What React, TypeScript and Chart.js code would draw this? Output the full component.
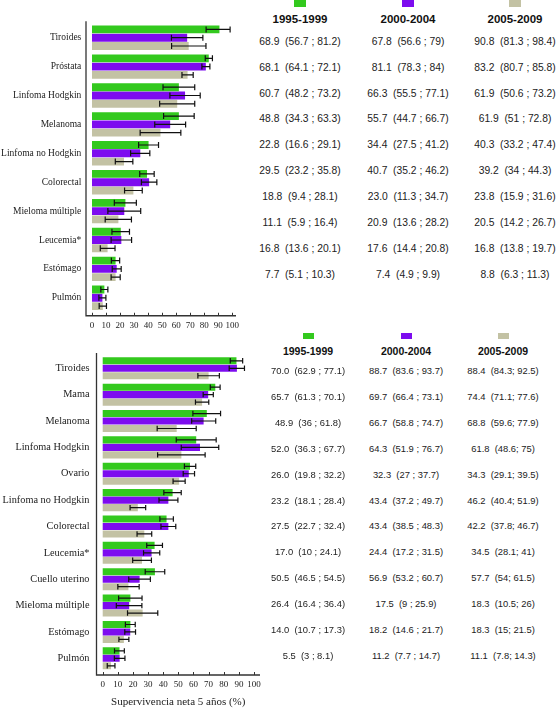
import React, { useEffect, useRef } from "react";
import { Chart, registerables } from "chart.js";

Chart.register(...registerables);

const GREEN = "#33c91e";
const PURPLE = "#7d0cef";
const GRAY = "#c3c2a4";

const periods = ["1995-1999", "2000-2004", "2005-2009"];
const xTickValues = [0, 10, 20, 30, 40, 50, 60, 70, 80, 90, 100];
const axisTitle = "Supervivencia neta 5 años (%)";

// ---- Top panel (bars) ----
const topCategories = ["Tiroides", "Próstata", "Linfoma Hodgkin", "Melanoma", "Linfoma no Hodgkin", "Colorectal", "Mieloma múltiple", "Leucemia*", "Estómago", "Pulmón"];
const topGreen = [90.8, 83.2, 61.9, 61.9, 40.3, 39.2, 23.8, 20.5, 16.8, 8.8];
const topGreenLo = [81.3, 80.7, 50.6, 51, 33.2, 34, 15.9, 14.2, 13.8, 6.3];
const topGreenHi = [98.4, 85.8, 73.2, 72.8, 47.4, 44.3, 31.6, 26.7, 19.7, 11.3];
const topPurple = [67.8, 81.1, 66.3, 55.7, 34.4, 40.7, 23.0, 20.9, 17.6, 7.4];
const topPurpleLo = [56.6, 78.3, 55.5, 44.7, 27.5, 35.2, 11.3, 13.6, 14.4, 4.9];
const topPurpleHi = [79, 84, 77.1, 66.7, 41.2, 46.2, 34.7, 28.2, 20.8, 9.9];
const topGray = [68.9, 68.1, 60.7, 48.8, 22.8, 29.5, 18.8, 11.1, 16.8, 7.7];
const topGrayLo = [56.7, 64.1, 48.2, 34.3, 16.6, 23.2, 9.4, 5.9, 13.6, 5.1];
const topGrayHi = [81.2, 72.1, 73.2, 63.3, 29.1, 35.8, 28.1, 16.4, 20.1, 10.3];

// ---- Top panel (table text) ----
const topTable1 = ["68.9  (56.7 ; 81.2)", "68.1  (64.1 ; 72.1)", "60.7  (48.2 ; 73.2)", "48.8  (34.3 ; 63.3)", "22.8  (16.6 ; 29.1)", "29.5  (23.2 ; 35.8)", "18.8  (9.4 ; 28.1)", "11.1  (5.9 ; 16.4)", "16.8  (13.6 ; 20.1)", "7.7  (5.1 ; 10.3)"];
const topTable2 = ["67.8  (56.6 ; 79)", "81.1  (78.3 ; 84)", "66.3  (55.5 ; 77.1)", "55.7  (44.7 ; 66.7)", "34.4  (27.5 ; 41.2)", "40.7  (35.2 ; 46.2)", "23.0  (11.3 ; 34.7)", "20.9  (13.6 ; 28.2)", "17.6  (14.4 ; 20.8)", "7.4  (4.9 ; 9.9)"];
const topTable3 = ["90.8  (81.3 ; 98.4)", "83.2  (80.7 ; 85.8)", "61.9  (50.6 ; 73.2)", "61.9  (51 ; 72.8)", "40.3  (33.2 ; 47.4)", "39.2  (34 ; 44.3)", "23.8  (15.9 ; 31.6)", "20.5  (14.2 ; 26.7)", "16.8  (13.8 ; 19.7)", "8.8  (6.3 ; 11.3)"];

// ---- Bottom panel (bars) ----
const botCategories = ["Tiroides", "Mama", "Melanoma", "Linfoma Hodgkin", "Ovario", "Linfoma no Hodgkin", "Colorectal", "Leucemia*", "Cuello uterino", "Mieloma múltiple", "Estómago", "Pulmón"];
const botGreen = [88.4, 74.4, 68.8, 61.8, 57.7, 46.2, 42.2, 34.3, 34.5, 18.3, 18.3, 11.1];
const botGreenLo = [84.3, 71.1, 59.6, 48.6, 54, 40.4, 37.8, 29.1, 28.1, 10.5, 15, 7.8];
const botGreenHi = [92.5, 77.6, 77.9, 75, 61.5, 51.9, 46.7, 39.5, 41, 26, 21.5, 14.3];
const botPurple = [88.7, 69.7, 66.7, 64.3, 56.9, 43.4, 43.4, 32.3, 24.4, 17.5, 18.2, 11.2];
const botPurpleLo = [83.6, 66.4, 58.8, 51.9, 53.2, 37.2, 38.5, 27, 17.2, 9, 14.6, 7.7];
const botPurpleHi = [93.7, 73.1, 74.7, 76.7, 60.7, 49.7, 48.3, 37.7, 31.5, 25.9, 21.7, 14.7];
const botGray = [70.0, 65.7, 48.9, 52.0, 50.5, 23.2, 27.5, 26.0, 17.0, 26.4, 14.0, 5.5];
const botGrayLo = [62.9, 61.3, 36, 36.3, 46.5, 18.1, 22.7, 19.8, 10, 16.4, 10.7, 3];
const botGrayHi = [77.1, 70.1, 61.8, 67.7, 54.5, 28.4, 32.4, 32.2, 24.1, 36.4, 17.3, 8.1];

// ---- Bottom panel (table text) ----
const botTable1 = ["70.0  (62.9 ; 77.1)", "65.7  (61.3 ; 70.1)", "48.9  (36 ; 61.8)", "52.0  (36.3 ; 67.7)", "26.0  (19.8 ; 32.2)", "23.2  (18.1 ; 28.4)", "27.5  (22.7 ; 32.4)", "17.0  (10 ; 24.1)", "50.5  (46.5 ; 54.5)", "26.4  (16.4 ; 36.4)", "14.0  (10.7 ; 17.3)", "5.5  (3 ; 8.1)"];
const botTable2 = ["88.7  (83.6 ; 93.7)", "69.7  (66.4 ; 73.1)", "66.7  (58.8 ; 74.7)", "64.3  (51.9 ; 76.7)", "32.3  (27 ; 37.7)", "43.4  (37.2 ; 49.7)", "43.4  (38.5 ; 48.3)", "24.4  (17.2 ; 31.5)", "56.9  (53.2 ; 60.7)", "17.5  (9 ; 25.9)", "18.2  (14.6 ; 21.7)", "11.2  (7.7 ; 14.7)"];
const botTable3 = ["88.4  (84.3; 92.5)", "74.4  (71.1; 77.6)", "68.8  (59.6; 77.9)", "61.8  (48.6; 75)", "34.3  (29.1; 39.5)", "46.2  (40.4; 51.9)", "42.2  (37.8; 46.7)", "34.5  (28.1; 41)", "57.7  (54; 61.5)", "18.3  (10.5; 26)", "18.3  (15; 21.5)", "11.1  (7.8; 14.3)"];

const SERIF = "'Liberation Serif', 'DejaVu Serif', serif";
const SANS = "'Liberation Sans', Arial, sans-serif";

type PanelProps = {
  labels: string[];
  series: { color: string; values: number[]; lo: number[]; hi: number[] }[];
  top: number;
  width: number;
  height: number;
  areaTop: number;
  areaBottom: number;
  areaLeft: number;
  areaRight: number;
  xMin: number;
  xMax: number;
  labelSize: number;
  labelPad: number;
  tickPad: number;
  catPct: number;
  title?: string;
};

const errorBarPlugin = {
  id: "errorBars",
  afterDatasetsDraw(chart: any) {
    const ctx = chart.ctx;
    const xs = chart.scales.x;
    ctx.save();
    ctx.strokeStyle = "#111";
    ctx.lineWidth = 1.2;
    chart.data.datasets.forEach((ds: any, di: number) => {
      const meta = chart.getDatasetMeta(di);
      meta.data.forEach((bar: any, i: number) => {
        const y = bar.y;
        const x1 = xs.getPixelForValue(ds.errLo[i]);
        const x2 = xs.getPixelForValue(ds.errHi[i]);
        const cap = Math.max(2.5, bar.height * 0.38);
        ctx.beginPath();
        ctx.moveTo(x1, y);
        ctx.lineTo(x2, y);
        ctx.moveTo(x1, y - cap);
        ctx.lineTo(x1, y + cap);
        ctx.moveTo(x2, y - cap);
        ctx.lineTo(x2, y + cap);
        ctx.stroke();
      });
    });
    ctx.restore();
  },
};

const axisLinePlugin = {
  id: "axisLines",
  afterDraw(chart: any) {
    const ctx = chart.ctx;
    const { left, right, top, bottom } = chart.chartArea;
    const xs = chart.scales.x;
    const yAxis = bottom + 3.5;
    ctx.save();
    ctx.strokeStyle = "#333";
    ctx.lineWidth = 1.3;
    ctx.beginPath();
    ctx.moveTo(left, top - 2);
    ctx.lineTo(left, yAxis);
    ctx.lineTo(right, yAxis);
    ctx.stroke();
    ctx.lineWidth = 1;
    ctx.beginPath();
    xs.ticks.forEach((t: any) => {
      const px = Math.round(xs.getPixelForValue(t.value)) + 0.5;
      ctx.moveTo(px, yAxis);
      ctx.lineTo(px, yAxis - 3);
    });
    ctx.stroke();
    ctx.restore();
  },
};

function Panel(p: PanelProps) {
  const ref = useRef<HTMLCanvasElement | null>(null);
  useEffect(() => {
    if (!ref.current) return;
    const chart = new Chart(ref.current, {
      type: "bar",
      data: {
        labels: p.labels,
        datasets: p.series.map((s) => ({
          data: s.values,
          backgroundColor: s.color,
          borderWidth: 0,
          categoryPercentage: p.catPct,
          barPercentage: 0.95,
          errLo: s.lo,
          errHi: s.hi,
        })) as any,
      },
      options: {
        indexAxis: "y",
        responsive: false,
        animation: false,
        devicePixelRatio: 1,
        layout: {
          padding: { top: p.areaTop, right: p.width - p.areaRight, left: 0, bottom: 0 },
        },
        plugins: { legend: { display: false }, tooltip: { enabled: false } },
        scales: {
          x: {
            type: "linear",
            min: p.xMin,
            max: p.xMax,
            grid: { display: false, drawTicks: false },
            border: { display: false },
            afterBuildTicks: (scale: any) => {
              scale.ticks = xTickValues.map((v) => ({ value: v }));
            },
            afterFit: (scale: any) => {
              scale.height = p.height - p.areaBottom;
            },
            ticks: {
              padding: p.tickPad,
              color: "#222",
              font: { family: SERIF, size: 9 },
              maxRotation: 0,
              autoSkip: false,
            },
            title: p.title
              ? {
                  display: true,
                  text: p.title,
                  color: "#222",
                  font: { family: SERIF, size: 11 },
                  padding: { top: 0, bottom: 0.7 },
                }
              : { display: false },
          },
          y: {
            type: "category",
            grid: { display: false, drawTicks: false },
            border: { display: false },
            afterFit: (scale: any) => {
              scale.width = p.areaLeft;
            },
            ticks: {
              padding: p.labelPad,
              color: "#222",
              font: { family: SERIF, size: p.labelSize },
              autoSkip: false,
            },
          },
        },
      } as any,
      plugins: [errorBarPlugin, axisLinePlugin],
    });
    return () => chart.destroy();
  }, []);
  return (
    <canvas
      ref={ref}
      width={p.width}
      height={p.height}
      style={{ position: "absolute", left: 0, top: p.top, width: p.width, height: p.height }}
    />
  );
}

function TableBlock(props: {
  cols: string[][];
  colX: number[];
  headerY: number;
  squareY: number;
  squareW: number;
  squareH: number;
  rowY0: number;
  rowStep: number;
  headerSize: number;
  rowSize: number;
}) {
  const colors = [GREEN, PURPLE, GRAY];
  const items: any[] = [];
  props.colX.forEach((x, c) => {
    items.push(
      <div
        key={"sq" + c}
        style={{
          position: "absolute",
          left: x - props.squareW / 2,
          top: props.squareY,
          width: props.squareW,
          height: props.squareH,
          background: colors[c],
        }}
      />
    );
    items.push(
      <div
        key={"h" + c}
        style={{
          position: "absolute",
          left: x,
          top: props.headerY,
          transform: "translate(-50%, -50%)",
          fontFamily: SANS,
          fontWeight: 700,
          fontSize: props.headerSize,
          color: "#111",
          whiteSpace: "pre",
          lineHeight: 1,
        }}
      >
        {periods[c]}
      </div>
    );
    props.cols[c].forEach((t, r) => {
      items.push(
        <div
          key={"c" + c + "r" + r}
          style={{
            position: "absolute",
            left: x,
            top: props.rowY0 + r * props.rowStep,
            transform: "translate(-50%, -50%)",
            fontFamily: SANS,
            fontSize: props.rowSize,
            color: "#222",
            whiteSpace: "pre",
            lineHeight: 1,
          }}
        >
          {t}
        </div>
      );
    });
  });
  return <>{items}</>;
}

export default function App() {
  return (
    <div style={{ position: "fixed", left: 0, top: 0, width: 558, height: 709, background: "#fff", overflow: "hidden" }}>
      <Panel
        labels={topCategories}
        series={[
          { color: GREEN, values: topGreen, lo: topGreenLo, hi: topGreenHi },
          { color: PURPLE, values: topPurple, lo: topPurpleLo, hi: topPurpleHi },
          { color: GRAY, values: topGray, lo: topGrayLo, hi: topGrayHi },
        ]}
        top={0}
        width={250}
        height={335}
        areaTop={23.25}
        areaBottom={312.25}
        areaLeft={86}
        areaRight={236}
        xMin={-4.28}
        xMax={102.6}
        labelSize={9.5}
        labelPad={4.7}
        tickPad={7.5}
        catPct={0.86}
      />
      <Panel
        labels={botCategories}
        series={[
          { color: GREEN, values: botGreen, lo: botGreenLo, hi: botGreenHi },
          { color: PURPLE, values: botPurple, lo: botPurpleLo, hi: botPurpleHi },
          { color: GRAY, values: botGray, lo: botGrayLo, hi: botGrayHi },
        ]}
        top={330}
        width={275}
        height={379}
        areaTop={25.1}
        areaBottom={341.5}
        areaLeft={96.5}
        areaRight={260}
        xMin={-4.1}
        xMax={103.96}
        labelSize={10.3}
        labelPad={7}
        tickPad={8}
        catPct={0.85}
        title={axisTitle}
      />
      <TableBlock
        cols={[topTable1, topTable2, topTable3]}
        colX={[300, 408, 515]}
        headerY={20}
        squareY={0}
        squareW={12}
        squareH={7}
        rowY0={41.7}
        rowStep={25.9}
        headerSize={11.5}
        rowSize={10.3}
      />
      <TableBlock
        cols={[botTable1, botTable2, botTable3]}
        colX={[308, 406, 503]}
        headerY={351}
        squareY={333}
        squareW={11}
        squareH={6}
        rowY0={371}
        rowStep={25.9}
        headerSize={10.5}
        rowSize={9.4}
      />
    </div>
  );
}
